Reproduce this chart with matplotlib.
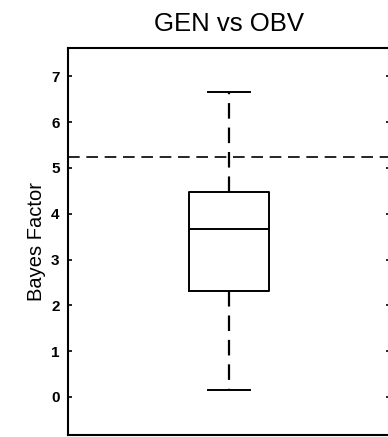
import matplotlib
matplotlib.use("Agg")
import matplotlib.pyplot as plt

plt.rcParams['font.family'] = ['Liberation Sans', 'DejaVu Sans']

# box summary for the GEN vs OBV comparison
whisker_low = 0.15
q1 = 2.31
median = 3.67
q3 = 4.48
whisker_high = 6.66
threshold = 5.24

stats = [dict(med=median, q1=q1, q3=q3, whislo=whisker_low, whishi=whisker_high, fliers=[])]

fig = plt.figure(figsize=(3.88, 4.37), dpi=100)
ax = fig.add_axes([68/388, 2/437, 322/388, 387/437])

ax.bxp(stats, positions=[1], widths=0.25, showfliers=False,
       boxprops=dict(color='k', linewidth=1.4),
       medianprops=dict(color='k', linewidth=1.4),
       whiskerprops=dict(color='k', linewidth=1.6, linestyle=(0, (7, 4))),
       capprops=dict(color='k', linewidth=1.4), capwidths=0.13)
ax.axhline(threshold, color='k', linewidth=1.2, linestyle=(0, (7, 4)))

ax.set_xlim(0.5, 1.5)
ax.set_ylim(-0.83, 7.62)
ax.set_yticks(range(0, 8))
ax.set_xticks([])
ax.tick_params(axis='y', direction='in', length=3, width=1.2, right=True,
               labelsize=11, pad=6)
for lab in ax.get_yticklabels():
    lab.set_fontweight('bold')
for sp in ax.spines.values():
    sp.set_linewidth(1.5)

ax.set_ylabel('Bayes Factor', fontsize=14.5, labelpad=4)
ax.set_title('GEN vs OBV', fontsize=18.5, pad=12)

fig.savefig('out.png', dpi=100)
